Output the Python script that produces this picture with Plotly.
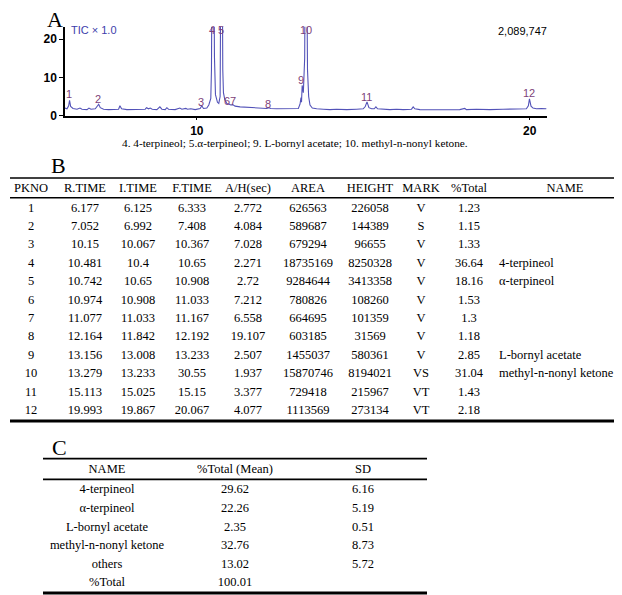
import plotly.graph_objects as go

# -----------------------------
# A: TIC chromatogram (time in min, intensity x1e5)
# -----------------------------
rt = [6.04, 6.10, 6.15, 6.177, 6.21, 6.28, 6.40, 6.49, 6.55, 6.70, 6.76, 6.82,
      6.95, 7.00, 7.052, 7.10, 7.20, 7.35, 7.50, 7.65, 7.69, 7.74, 7.90, 8.10,
      8.30, 8.45, 8.49, 8.55, 8.60, 8.66, 8.80, 8.89, 8.95, 9.05, 9.10, 9.15,
      9.35, 9.49, 9.55, 9.67, 9.72, 9.82, 9.95, 10.10, 10.15, 10.20, 10.30, 10.36,
      10.42, 10.44, 10.45, 10.481, 10.52, 10.53, 10.56, 10.62, 10.66, 10.70, 10.715, 10.742,
      10.77, 10.78, 10.80, 10.84, 10.90, 10.974, 11.02, 11.077, 11.15, 11.30, 11.50, 11.70,
      11.90, 12.10, 12.164, 12.22, 12.40, 12.60, 12.80, 12.95, 13.05, 13.10, 13.13, 13.145,
      13.165, 13.20, 13.24, 13.25, 13.279, 13.31, 13.325, 13.36, 13.40, 13.47, 13.60, 13.80,
      14.00, 14.20, 14.50, 14.80, 15.00, 15.06, 15.113, 15.17, 15.25, 15.33, 15.38, 15.43,
      15.60, 15.80, 16.00, 16.20, 16.45, 16.50, 16.55, 16.70, 17.00, 17.30, 17.60, 17.90,
      18.05, 18.10, 18.40, 18.80, 19.20, 19.60, 19.90, 19.96, 19.993, 20.04, 20.10, 20.20,
      20.35, 20.50]
tic = [2.0, 1.8, 2.6, 4.0, 2.4, 1.9, 1.7, 2.0, 1.7, 1.6, 2.0, 1.7,
       1.8, 2.3, 3.0, 2.1, 1.7, 1.6, 1.6, 1.7, 2.6, 1.8, 1.6, 1.6,
       1.6, 1.7, 2.1, 1.8, 2.0, 1.7, 1.6, 2.3, 1.7, 1.6, 2.1, 1.7,
       1.6, 2.0, 1.7, 1.9, 1.7, 1.8, 1.6, 1.9, 2.6, 1.9, 2.0, 2.8,
       4.5, 12.0, 30.0, 84.5, 30.0, 15.3, 5.5, 3.5, 3.2, 5.0, 30.0, 36.0,
       30.0, 12.0, 6.0, 4.2, 3.2, 3.0, 2.8, 2.9, 2.5, 2.3, 2.2, 2.1,
       2.0, 1.9, 2.1, 1.9, 1.8, 1.8, 1.8, 1.8, 1.9, 3.0, 4.7, 3.5,
       7.9, 6.0, 15.0, 30.0, 84.0, 30.0, 12.0, 5.0, 2.8, 2.0, 1.8, 1.7,
       1.6, 1.7, 1.6, 1.7, 1.8, 2.4, 3.6, 2.1, 1.8, 1.8, 2.3, 1.8,
       1.7, 1.6, 1.7, 1.6, 1.7, 2.3, 1.8, 1.6, 1.55, 1.6, 1.7, 1.6,
       1.9, 1.6, 1.7, 1.6, 1.7, 1.7, 1.8, 2.6, 4.4, 2.5, 2.0, 1.8,
       1.9, 1.8]

peak_lbl = ["1", "2", "3", "4", "5", "67", "8", "9", "10", "11", "12"]
peak_lbl_t = [6.16, 7.03, 10.12, 10.46, 10.73, 11.0, 12.14, 13.13, 13.28, 15.1, 19.99]
peak_lbl_y = [5.6, 4.3, 3.6, 22.4, 22.4, 3.8, 3.0, 9.2, 22.4, 5.0, 5.8]

# -----------------------------
# B: peak table
# -----------------------------
b_head = ["PKNO", "R.TIME", "I.TIME", "F.TIME", "A/H(sec)", "AREA", "HEIGHT", "MARK", "%Total", "NAME"]
pkno = [1, 2, 3, 4, 5, 6, 7, 8, 9, 10, 11, 12]
r_time = [6.177, 7.052, 10.15, 10.481, 10.742, 10.974, 11.077, 12.164, 13.156, 13.279, 15.113, 19.993]
i_time = [6.125, 6.992, 10.067, 10.4, 10.65, 10.908, 11.033, 11.842, 13.008, 13.233, 15.025, 19.867]
f_time = [6.333, 7.408, 10.367, 10.65, 10.908, 11.033, 11.167, 12.192, 13.233, 30.55, 15.15, 20.067]
ah_sec = [2.772, 4.084, 7.028, 2.271, 2.72, 7.212, 6.558, 19.107, 2.507, 1.937, 3.377, 4.077]
area = [626563, 589687, 679294, 18735169, 9284644, 780826, 664695, 603185, 1455037, 15870746, 729418, 1113569]
height = [226058, 144389, 96655, 8250328, 3413358, 108260, 101359, 31569, 580361, 8194021, 215967, 273134]
mark = ["V", "S", "V", "V", "V", "V", "V", "V", "V", "VS", "VT", "VT"]
pct_total = [1.23, 1.15, 1.33, 36.64, 18.16, 1.53, 1.3, 1.18, 2.85, 31.04, 1.43, 2.18]
name = ["", "", "", "4-terpineol", "α-terpineol", "", "", "", "L-bornyl acetate",
        "methyl-n-nonyl ketone", "", ""]

# -----------------------------
# C: summary table
# -----------------------------
c_head = ["NAME", "%Total (Mean)", "SD"]
c_name = ["4-terpineol", "α-terpineol", "L-bornyl acetate", "methyl-n-nonyl ketone", "others", "%Total"]
c_mean = [29.62, 22.26, 2.35, 32.76, 13.02, 100.01]
c_sd = [6.16, 5.19, 0.51, 8.73, 5.72, None]

W, H = 622, 595
SERIF = "Liberation Serif"
SANS = "Liberation Sans"
TRACE = "#5252b8"
LBL = "#7d3f79"
CELL = 12.5

fig = go.Figure()

fig.add_trace(go.Scatter(x=rt, y=tic, mode="lines", line=dict(color=TRACE, width=1.1),
                         hoverinfo="skip", showlegend=False))

for t, x, y in zip(peak_lbl, peak_lbl_t, peak_lbl_y):
    fig.add_annotation(x=x, y=y, xref="x", yref="y", text=t, showarrow=False,
                       font=dict(family=SANS, size=11, color=LBL))

# table cells on a pixel-like overlay axis (x2 / y2)
def col(xs, ys, vals, pos="middle center"):
    fig.add_trace(go.Scatter(x=[xs] * len(vals), y=ys, mode="text",
                             text=["" if v is None else str(v) for v in vals],
                             textposition=pos, cliponaxis=False,
                             textfont=dict(family=SERIF, size=CELL, color="black"),
                             xaxis="x2", yaxis="y2", hoverinfo="skip", showlegend=False))

b_x = [23, 77, 130, 184, 240, 300, 362, 413, 461, 557]
b_head_y = 183
b_rows_y = [203 + 18.6 * i for i in range(len(pkno))]
for x, h in zip(b_x, b_head):
    col(x, [b_head_y], [h])
for x, vals in zip(b_x[:-1], [pkno, r_time, i_time, f_time, ah_sec, area, height, mark, pct_total]):
    col(x, b_rows_y, vals)
col(491, b_rows_y, name, pos="middle right")

c_x = [99, 227, 355]
c_head_y = 467
c_rows_y = [488 + 18.8 * i for i in range(len(c_name))]
for x, h in zip(c_x, c_head):
    col(x, [c_head_y], [h])
for x, vals in zip(c_x, [c_name, c_mean, c_sd]):
    col(x, c_rows_y, vals)

# rules
rules = [(2, 622, 172, 1.7), (2, 622, 192, 1.7), (2, 622, 418, 3),
         (35, 419, 456, 1.7), (35, 419, 477, 1.7), (35, 419, 592, 3)]
for x0, x1, y, w in rules:
    fig.add_shape(type="line", x0=x0, x1=x1, y0=y, y1=y, xref="x2", yref="y2",
                  line=dict(color="black", width=w))

def txt(x, y, s, size, family=SERIF, color="black", xanchor="left"):
    fig.add_annotation(x=x, y=y, xref="x2", yref="y2", text=s, showarrow=False,
                       xanchor=xanchor, yanchor="middle",
                       font=dict(family=family, size=size, color=color))

txt(37, 12, "A", 22)
txt(41, 159, "B", 22)
txt(42, 445, "C", 22)
txt(61, 22, "TIC × 1.0", 11, family=SANS, color="#3d3dab")
txt(541, 23, "2,089,747", 11, family=SANS, xanchor="right")
txt(112, 137, "4. 4-terpineol; 5.α-terpineol; 9. L-bornyl acetate; 10. methyl-n-nonyl ketone.", 11.3)

fig.update_layout(
    width=W, height=H, margin=dict(l=0, r=0, t=0, b=0),
    paper_bgcolor="white", plot_bgcolor="rgba(0,0,0,0)",
    xaxis=dict(domain=[57 / W, 539 / W], range=[6.04, 20.52], showline=True,
               linecolor="black", linewidth=1.5, showgrid=False, zeroline=False,
               tickvals=[10, 20], ticks="outside", ticklen=3, tickcolor="black",
               tickfont=dict(family=SANS, size=12, color="black", weight="bold")),
    yaxis=dict(domain=[1 - 109 / H, 1 - 19 / H], range=[0, 23.2], showline=True,
               linecolor="black", linewidth=1.5, showgrid=False, zeroline=False,
               tickvals=[0, 10, 20], ticks="outside", ticklen=4, tickcolor="black",
               tickfont=dict(family=SANS, size=12, color="black", weight="bold")),
    xaxis2=dict(domain=[0, 1], range=[0, W], visible=False, anchor="y2"),
    yaxis2=dict(domain=[0, 1], range=[H, 0], visible=False, anchor="x2"),
)

fig.write_html("out.html")
